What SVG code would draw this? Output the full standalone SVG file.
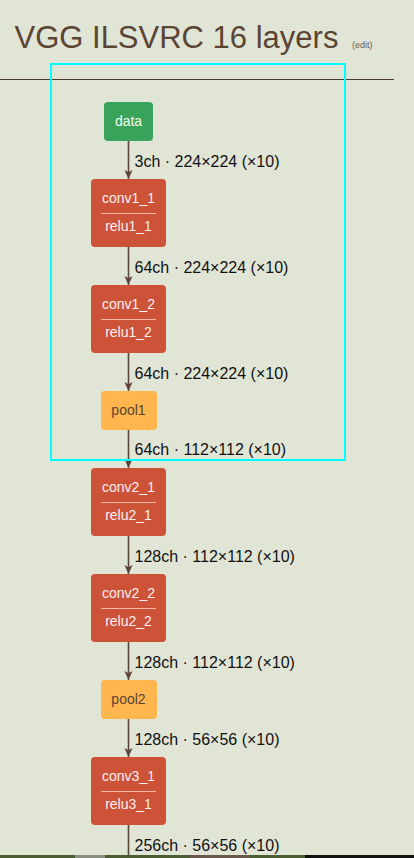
<svg xmlns="http://www.w3.org/2000/svg" width="414" height="858" viewBox="0 0 414 858">
<defs>
<style>
.bg{fill:#e1e5d6}
.title{font-family:"Liberation Sans",Arial,sans-serif;font-size:31px;fill:#5b4434}
.edit{font-family:"Liberation Sans",Arial,sans-serif;font-size:9px;fill:#6b5a4c}
.conv rect{fill:#cc5337}
.conv line{stroke:#f2b7a6;stroke-width:1}
.conv text{font-family:"Liberation Sans",Arial,sans-serif;font-size:14px;fill:#fdeef2;text-anchor:middle}
.data rect{fill:#38a35a}
.data text{font-family:"Liberation Sans",Arial,sans-serif;font-size:14px;fill:#f4fbf0;text-anchor:middle}
.pool rect{fill:#ffb64e}
.pool text{font-family:"Liberation Sans",Arial,sans-serif;font-size:14px;fill:#5b4434;text-anchor:middle}
.edge{stroke:#5b4538;stroke-width:1.6;fill:none}
.lbl{font-family:"Liberation Sans",Arial,sans-serif;font-size:16px;fill:#111}
</style>
<marker id="arr" viewBox="0 0 10 10" refX="10" refY="5" markerWidth="9" markerHeight="9" markerUnits="userSpaceOnUse" orient="auto">
<path d="M0,0.5 L10,5 L0,9.5 L2.5,5 z" fill="#5b4538"/>
</marker>
</defs>
<rect class="bg" x="0" y="0" width="414" height="858"/>
<text class="title" x="14.5" y="47.5">VGG ILSVRC 16 layers</text>
<text class="edit" x="352" y="47.5">(edit)</text>
<line x1="0" y1="79.5" x2="394" y2="79.5" stroke="#4a3a2e" stroke-width="1"/>

<g id="connectors">
<line class="edge" x1="128.5" y1="141" x2="128.5" y2="179" marker-end="url(#arr)"/>
<line class="edge" x1="128.5" y1="247" x2="128.5" y2="285" marker-end="url(#arr)"/>
<line class="edge" x1="128.5" y1="353" x2="128.5" y2="391" marker-end="url(#arr)"/>
<line class="edge" x1="128.5" y1="430" x2="128.5" y2="468" marker-end="url(#arr)"/>
<line class="edge" x1="128.5" y1="536" x2="128.5" y2="574" marker-end="url(#arr)"/>
<line class="edge" x1="128.5" y1="642" x2="128.5" y2="680" marker-end="url(#arr)"/>
<line class="edge" x1="128.5" y1="719" x2="128.5" y2="757" marker-end="url(#arr)"/>
<line class="edge" x1="128.5" y1="825" x2="128.5" y2="858"/>
<text class="lbl" x="134.5" y="167">3ch · 224×224 (×10)</text>
<text class="lbl" x="134.5" y="273">64ch · 224×224 (×10)</text>
<text class="lbl" x="134.5" y="379">64ch · 224×224 (×10)</text>
<text class="lbl" x="134.5" y="455">64ch · 112×112 (×10)</text>
<text class="lbl" x="134.5" y="562">128ch · 112×112 (×10)</text>
<text class="lbl" x="134.5" y="668">128ch · 112×112 (×10)</text>
<text class="lbl" x="134.5" y="744.5">128ch · 56×56 (×10)</text>
<text class="lbl" x="134.5" y="851">256ch · 56×56 (×10)</text>
</g>

<g id="data" class="data">
<rect x="104" y="102" width="49" height="39" rx="4"/>
<text x="128.5" y="126">data</text>
</g>
<g id="conv1_1" class="conv">
<rect x="91" y="179" width="75" height="68" rx="4"/>
<text x="128.5" y="202.5">conv1_1</text>
<line x1="101" y1="213.5" x2="156" y2="213.5"/>
<text x="128.5" y="231">relu1_1</text>
</g>
<g id="conv1_2" class="conv">
<rect x="91" y="285" width="75" height="68" rx="4"/>
<text x="128.5" y="308.5">conv1_2</text>
<line x1="101" y1="319.5" x2="156" y2="319.5"/>
<text x="128.5" y="337">relu1_2</text>
</g>
<g id="pool1" class="pool">
<rect x="101" y="391" width="56" height="39" rx="4"/>
<text x="128.5" y="415">pool1</text>
</g>
<g id="conv2_1" class="conv">
<rect x="91" y="468" width="75" height="68" rx="4"/>
<text x="128.5" y="491.5">conv2_1</text>
<line x1="101" y1="502.5" x2="156" y2="502.5"/>
<text x="128.5" y="520">relu2_1</text>
</g>
<g id="conv2_2" class="conv">
<rect x="91" y="574" width="75" height="68" rx="4"/>
<text x="128.5" y="597.5">conv2_2</text>
<line x1="101" y1="608.5" x2="156" y2="608.5"/>
<text x="128.5" y="626">relu2_2</text>
</g>
<g id="pool2" class="pool">
<rect x="101" y="680" width="56" height="39" rx="4"/>
<text x="128.5" y="704">pool2</text>
</g>
<g id="conv3_1" class="conv">
<rect x="91" y="757" width="75" height="68" rx="4"/>
<text x="128.5" y="780.5">conv3_1</text>
<line x1="101" y1="791.5" x2="156" y2="791.5"/>
<text x="128.5" y="809">relu3_1</text>
</g>

<rect x="51" y="64" width="294" height="396" fill="none" stroke="#00ffff" stroke-width="2"/>

<rect x="0" y="855" width="305" height="3" fill="#4c5c33"/>
<rect x="75" y="855" width="30" height="3" fill="#8a8f80"/>
<rect x="190" y="855" width="60" height="3" fill="#6a5a4c"/>
<rect x="305" y="855" width="109" height="3" fill="#111111"/>
</svg>
